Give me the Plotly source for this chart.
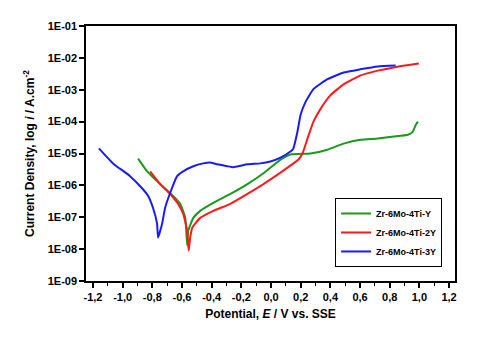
import plotly.graph_objects as go

# Zr-6Mo-4Ti-Y (green)
e_y = [-0.896, -0.835, -0.747, -0.68, -0.612, -0.578, -0.565, -0.558, -0.524, -0.477,
       -0.389, -0.274, -0.159, -0.051, 0.064, 0.131, 0.266, 0.38, 0.489, 0.604,
       0.72, 0.827, 0.922, 0.955, 0.976, 0.99]
logi_y = [-5.16, -5.56, -5.96, -6.24, -6.58, -7.02, -7.88, -7.42, -7.02, -6.80,
          -6.55, -6.27, -5.96, -5.62, -5.19, -5.03, -5.00, -4.88, -4.69, -4.57,
          -4.53, -4.47, -4.41, -4.32, -4.10, -4.00]

# Zr-6Mo-4Ti-2Y (red)
e_2y = [-0.815, -0.747, -0.68, -0.626, -0.592, -0.565, -0.555, -0.545, -0.531, -0.511,
        -0.477, -0.389, -0.274, -0.159, -0.051, 0.064, 0.185, 0.212, 0.246, 0.286,
        0.334, 0.401, 0.489, 0.604, 0.72, 0.827, 0.996]
logi_2y = [-5.56, -5.96, -6.27, -6.58, -6.89, -7.42, -8.05, -7.64, -7.33, -7.20,
           -7.02, -6.80, -6.58, -6.27, -5.96, -5.60, -5.19, -5.00, -4.53, -4.00,
           -3.60, -3.17, -2.83, -2.55, -2.40, -2.30, -2.18]

# Zr-6Mo-4Ti-3Y (blue)
e_3y = [-1.16, -1.065, -0.95, -0.869, -0.828, -0.795, -0.768, -0.761, -0.734, -0.714,
        -0.68, -0.633, -0.592, -0.524, -0.457, -0.41, -0.362, -0.295, -0.254, -0.16,
        -0.072, -0.004, 0.064, 0.131, 0.15, 0.178, 0.199, 0.232, 0.286, 0.38,
        0.489, 0.6, 0.72, 0.84]
logi_3y = [-4.84, -5.31, -5.71, -6.09, -6.33, -6.71, -7.20, -7.64, -7.20, -6.71,
           -6.24, -5.71, -5.56, -5.40, -5.31, -5.28, -5.34, -5.40, -5.43, -5.34,
           -5.31, -5.25, -5.13, -4.94, -4.85, -4.32, -3.79, -3.39, -2.98, -2.67,
           -2.46, -2.36, -2.27, -2.24]

x_ticks = [-1.2, -1.0, -0.8, -0.6, -0.4, -0.2, 0.0, 0.2, 0.4, 0.6, 0.8, 1.0, 1.2]
x_labels = ["-1,2", "-1,0", "-0,8", "-0,6", "-0,4", "-0,2", "0,0", "0,2", "0,4", "0,6", "0,8", "1,0", "1,2"]
y_exps = [-1, -2, -3, -4, -5, -6, -7, -8, -9]
y_labels = ["1E-%02d" % -p for p in y_exps]

series = [
    ("Zr-6Mo-4Ti-Y", e_y, logi_y, "#1a9a1a"),
    ("Zr-6Mo-4Ti-2Y", e_2y, logi_2y, "#ff1a1a"),
    ("Zr-6Mo-4Ti-3Y", e_3y, logi_3y, "#1a1aff"),
]

fig = go.Figure()
for name, e, li, col in series:
    fig.add_trace(go.Scatter(
        x=e, y=[10 ** v for v in li], mode="lines", name=name,
        line=dict(color=col, width=2, shape="spline", smoothing=0.4),
    ))

font = dict(family="Liberation Sans, Arial", color="black", weight="bold")

# the page body adds an 8px margin, so the figure is a bit smaller than the window
fig.update_layout(
    width=470, height=332,
    margin=dict(l=78, r=23, t=15, b=59),
    paper_bgcolor="white", plot_bgcolor="white",
    font=dict(font, size=11),
    showlegend=True,
    legend=dict(
        x=0.965, y=0.055, xanchor="right", yanchor="bottom",
        bordercolor="black", borderwidth=1, bgcolor="white",
        font=dict(font, size=9), tracegroupgap=0, itemwidth=30,
    ),
)

fig.update_xaxes(
    range=[-1.247, 1.24], tickvals=x_ticks, ticktext=x_labels,
    ticks="outside", ticklen=5, tickwidth=1.5, tickcolor="black",
    minor=dict(dtick=0.1, ticks="outside", ticklen=3, tickwidth=1.2, tickcolor="black"),
    showline=True, linecolor="black", linewidth=1.5, mirror=True,
    showgrid=False, zeroline=False,
    tickfont=dict(font, size=11),
    title=dict(text="Potential, <i>E</i> / V vs. SSE", font=dict(font, size=12), standoff=8),
)

fig.update_yaxes(
    type="log", range=[-9, -1],
    tickvals=[10 ** p for p in y_exps], ticktext=y_labels,
    ticks="outside", ticklen=5, tickwidth=1.5, tickcolor="black",
    showline=True, linecolor="black", linewidth=1.5, mirror=True,
    showgrid=False, zeroline=False,
    tickfont=dict(font, size=11),
    title=dict(text="Current Density, log <i>i</i> / A.cm<sup>-2</sup>", font=dict(font, size=12), standoff=10),
)

fig.write_html("out.html")
